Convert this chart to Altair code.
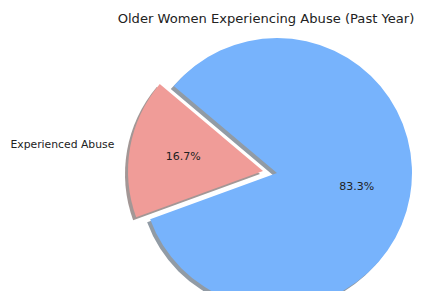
import math
import altair as alt
import pandas as pd

labels = ["Experienced Abuse", "Did Not Experience Abuse"]
values = [16.7, 83.3]
colors = ["#F09C98", "#77B3FC"]
shadow_colors = ["#A39796", "#919BA5"]
order_vals = [0, 1]

df = pd.DataFrame({
    "label": labels,
    "value": values,
    "order": order_vals,
    "pct": [f"{v:.1f}%" for v in values],
})

R = 135
start = math.radians(250)
theta = alt.Theta("value:Q", stack=True, scale=alt.Scale(range=[start, start + 2 * math.pi]))
order = alt.Order("order:Q", sort="ascending")

# slice centres (exploded first slice), in plot coordinates
centers = {labels[0]: (255, 163), labels[1]: (269, 165)}
SH = (-3, 3)  # shadow offset


def only(lbl):
    return alt.condition(f"datum.label == '{lbl}'", alt.value(1), alt.value(0))


def arc(lbl, cx, cy, fill):
    return alt.Chart(df).mark_arc(radius=R).encode(
        theta=theta, order=order,
        x=alt.value(cx), y=alt.value(cy),
        fill=alt.value(fill), opacity=only(lbl),
    )


def txt(lbl, cx, cy, radius, field, align, size):
    return alt.Chart(df).mark_text(
        radius=radius, fontSize=size, font="DejaVu Sans", color="#222222",
        align=align, baseline="middle",
    ).encode(
        theta=theta, order=order,
        x=alt.value(cx), y=alt.value(cy),
        text=f"{field}:N", opacity=only(lbl),
    )


layers = []
# shadows
for lbl, sc in zip(labels[::-1], shadow_colors[::-1]):
    cx, cy = centers[lbl]
    layers.append(arc(lbl, cx + SH[0], cy + SH[1], sc))
# slices
for lbl, c in zip(labels[::-1], colors[::-1]):
    cx, cy = centers[lbl]
    layers.append(arc(lbl, cx, cy, c))
# percentage texts
for lbl in labels:
    cx, cy = centers[lbl]
    layers.append(txt(lbl, cx, cy, R * 0.6, "pct", "center", 11))
# outer label (only the one visible inside the picture)
cx, cy = centers[labels[0]]
layers.append(txt(labels[0], cx, cy, 151, "label", "right", 10.8))

chart = alt.layer(*layers).properties(
    width=410, height=283,
    autosize=alt.AutoSizeParams(type="none"),
    padding=0,
    background="white",
    title=alt.TitleParams(
        "Older Women Experiencing Abuse (Past Year)",
        font="DejaVu Sans", fontSize=13.1, fontWeight="normal", color="#222222",
        anchor="middle", dx=53, dy=22,
    ),
).configure_view(strokeWidth=0, stroke="transparent")

chart.save("out.html", embed_options={"renderer": "svg", "actions": False})
